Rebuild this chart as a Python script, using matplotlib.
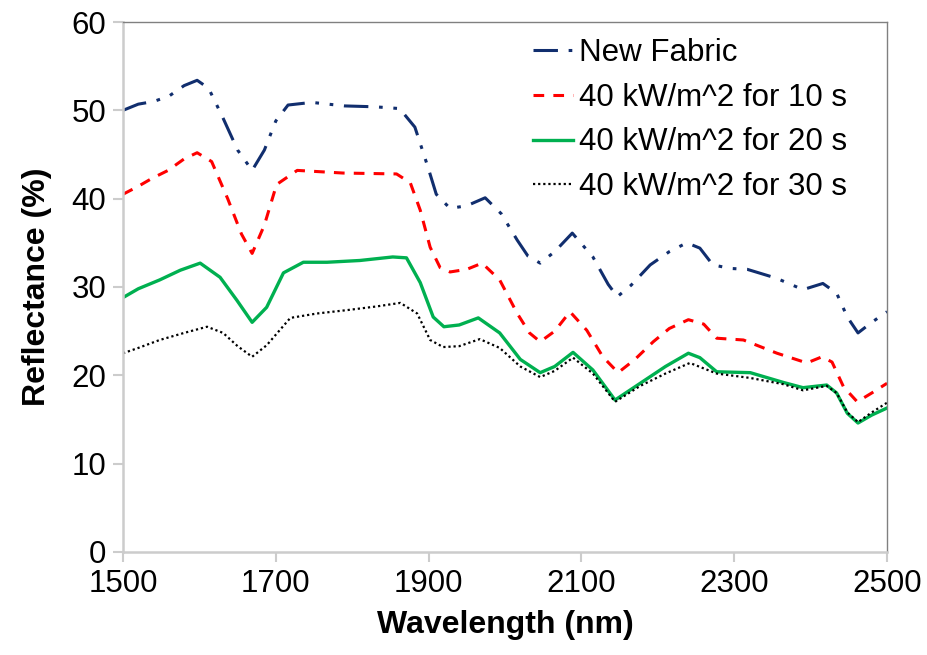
import matplotlib
matplotlib.use("Agg")
import matplotlib.pyplot as plt

plt.rcParams['font.family'] = ['Liberation Sans', 'DejaVu Sans']

# New Fabric
wl_new = [1500, 1520, 1540, 1560, 1580, 1597, 1612, 1630, 1650, 1669, 1685, 1700, 1716, 1747,
          1790, 1830, 1862, 1882, 1899, 1910, 1928, 1950, 1974, 1995, 2016, 2030, 2046, 2065,
          2088, 2115, 2135, 2147, 2165, 2190, 2215, 2238, 2255, 2272, 2295, 2317, 2355, 2390,
          2416, 2434, 2448, 2462, 2480, 2500]
new_fabric = [50.0, 50.7, 51.0, 51.6, 52.8, 53.4, 52.5, 49.3, 45.5, 43.2, 45.5, 48.8, 50.6, 50.9,
              50.5, 50.4, 50.2, 48.1, 43.6, 40.5, 38.9, 39.2, 40.1, 38.3, 35.3, 33.5, 32.7, 34.0,
              36.1, 33.4, 30.3, 28.9, 30.2, 32.5, 34.0, 35.0, 34.4, 32.5, 32.1, 32.0, 31.0, 29.7,
              30.4, 29.3, 26.6, 24.8, 26.0, 27.2]

# 10 s
wl_10 = [1500, 1520, 1538, 1559, 1580, 1597, 1616, 1637, 1655, 1669, 1685, 1701, 1728, 1788,
         1858, 1876, 1889, 1902, 1915, 1928, 1950, 1970, 1993, 2016, 2032, 2046, 2065, 2085,
         2107, 2128, 2148, 2170, 2194, 2215, 2240, 2260, 2277, 2312, 2356, 2395, 2415, 2428,
         2443, 2461, 2480, 2500]
kw_10s = [40.5, 41.4, 42.3, 43.2, 44.5, 45.2, 44.2, 40.0, 36.0, 33.8, 37.0, 41.6, 43.2, 42.9,
          42.8, 41.8, 38.7, 34.5, 32.2, 31.7, 32.0, 32.7, 30.8, 27.0, 24.8, 23.8, 25.0, 27.2,
          25.1, 22.1, 20.3, 21.8, 23.8, 25.3, 26.3, 25.8, 24.2, 24.0, 22.5, 21.4, 22.1, 21.5,
          18.7, 17.0, 18.0, 19.1]

# 20 s
wl_20 = [1500, 1520, 1548, 1575, 1601, 1627, 1649, 1669, 1688, 1710, 1736, 1767, 1810, 1853,
         1871, 1889, 1906, 1920, 1940, 1965, 1993, 2020, 2046, 2065, 2089, 2115, 2144, 2177,
         2210, 2240, 2255, 2277, 2321, 2364, 2390, 2421, 2434, 2448, 2462, 2480, 2500]
kw_20s = [28.8, 29.8, 30.8, 31.9, 32.7, 31.1, 28.5, 26.0, 27.7, 31.6, 32.8, 32.8, 33.0, 33.4,
          33.3, 30.5, 26.6, 25.5, 25.7, 26.5, 24.8, 21.8, 20.3, 21.0, 22.6, 20.6, 17.2, 19.1,
          21.0, 22.5, 22.0, 20.4, 20.3, 19.2, 18.6, 18.9, 18.0, 15.7, 14.6, 15.5, 16.3]

# 30 s
wl_30 = [1500, 1520, 1548, 1580, 1610, 1631, 1650, 1669, 1688, 1719, 1754, 1795, 1832, 1863,
         1885, 1902, 1919, 1940, 1967, 1993, 2020, 2046, 2065, 2089, 2115, 2144, 2177, 2210,
         2242, 2277, 2321, 2364, 2390, 2421, 2434, 2448, 2462, 2480, 2500]
kw_30s = [22.5, 23.1, 24.0, 24.8, 25.5, 24.8, 23.3, 22.1, 23.4, 26.5, 27.0, 27.4, 27.8, 28.2,
          27.0, 24.0, 23.2, 23.3, 24.1, 23.1, 21.0, 19.8, 20.5, 22.0, 20.2, 17.0, 18.8, 20.2,
          21.4, 20.2, 19.7, 19.0, 18.3, 18.8, 18.0, 15.8, 14.7, 15.8, 16.9]

labels = ['New Fabric', '40 kW/m^2 for 10 s', '40 kW/m^2 for 20 s', '40 kW/m^2 for 30 s']
x_ticks = [1500, 1700, 1900, 2100, 2300, 2500]
y_ticks = [0, 10, 20, 30, 40, 50, 60]

fig = plt.figure(figsize=(9.27, 6.55), dpi=100)
ax = fig.add_axes([0.1327, 0.1573, 0.8242, 0.8091])

ax.plot(wl_new, new_fabric, color='#112E6E', lw=2.2, dashes=(8, 3.5, 1.2, 3.5, 1.2, 3.5),
        label=labels[0])
ax.plot(wl_10, kw_10s, color='#FF0000', lw=2.2, dashes=(3.5, 3), label=labels[1])
ax.plot(wl_20, kw_20s, color='#00B050', lw=2.4, label=labels[2])
ax.plot(wl_30, kw_30s, color='black', lw=1.6, dashes=(1, 1.3), label=labels[3])

ax.set_xlim(1500, 2500)
ax.set_ylim(0, 60)
ax.set_xticks(x_ticks)
ax.set_yticks(y_ticks)
ax.tick_params(labelsize=22.5, length=7, width=1.5, color='#cccccc', direction='out', pad=5)

for side in ['left', 'bottom']:
    ax.spines[side].set_color('#cccccc')
    ax.spines[side].set_linewidth(1.8)
for side in ['top', 'right']:
    ax.spines[side].set_color('#808080')
    ax.spines[side].set_linewidth(1.0)

ax.set_xlabel('Wavelength (nm)', fontsize=23, fontweight='bold', labelpad=8)
ax.set_ylabel('Reflectance (%)', fontsize=23, fontweight='bold', labelpad=14)

ax.legend(loc='upper right', bbox_to_anchor=(0.972, 1.005), frameon=False, fontsize=22.5,
          handlelength=1.25, handletextpad=0.2, labelspacing=0.47, borderaxespad=0.2)

fig.savefig('out.png', dpi=100)
